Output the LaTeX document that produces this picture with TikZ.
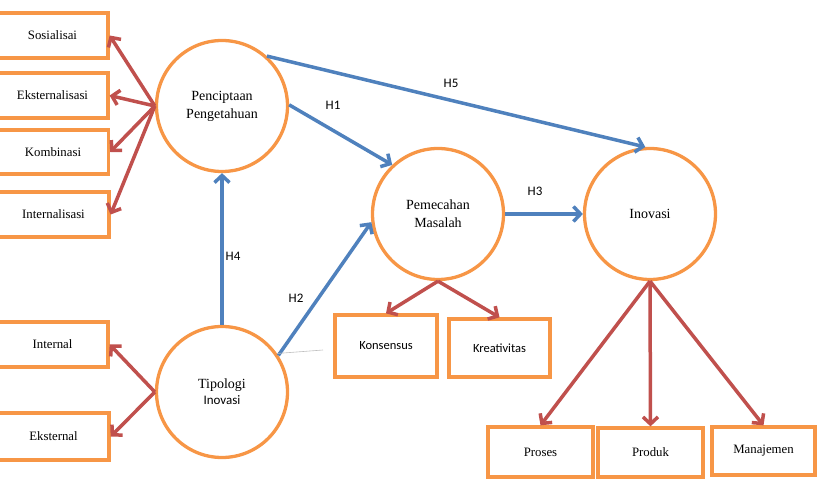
\documentclass[tikz,border=0pt]{standalone}
\usepackage{fontspec}
\setmainfont{Liberation Serif}
\newfontfamily\calibri{Carlito}
\usetikzlibrary{arrows.meta,positioning}
\definecolor{oranye}{RGB}{247,150,70}
\definecolor{merah}{RGB}{192,80,77}
\definecolor{biru}{RGB}{79,129,189}

\begin{document}
\begin{tikzpicture}[x=1pt,y=-1pt,
	kotak/.style={draw=oranye, line width=3.3pt, minimum width=111pt, minimum height=45pt, inner sep=0pt, font=\fontsize{12.8}{15}\selectfont},
	bulat/.style={draw=oranye, line width=3.3pt, circle, minimum size=131pt, inner sep=0pt, align=center, font=\fontsize{14}{18}\selectfont},
	panahmerah/.style={draw=merah, line width=3.5pt, -{Straight Barb[length=7pt,width=15pt]}},
	panahbiru/.style={draw=biru, line width=3.5pt, -{Straight Barb[length=7pt,width=15pt]}},
	teksh/.style={font=\calibri\fontsize{13}{15}\selectfont}]
		\useasboundingbox (0,0) rectangle (820,486);
		\node [kotak](sos) at (52.5,35.5) {Sosialisai};
		\node [kotak](eksl) at (52.5,95.5) {Eksternalisasi};
		\node [kotak, minimum height=44pt](kom) at (53,152) {Kombinasi};
		\node [kotak](intl) at (53.5,214.5) {Internalisasi};
		\node [kotak](intn) at (52.5,344.5) {Internal};
		\node [kotak, minimum height=47pt](ekst) at (53.5,436.5) {Eksternal};
		\node [bulat](penc) at (222,106) {Penciptaan\\Pengetahuan};
		\node [bulat](tipo) at (222,392) {Tipologi\\[-2pt]{\calibri\fontsize{13}{15}\selectfont Inovasi}};
		\node [bulat](peme) at (438,214) {Pemecahan\\Masalah};
		\node [bulat](inov) at (650,214) {Inovasi};
		\node [kotak, minimum width=102pt, minimum height=62pt, font=\calibri\fontsize{12.5}{15}\selectfont](kons) at (386,346) {Konsensus};
		\node [kotak, minimum width=101pt, minimum height=58pt, font=\calibri\fontsize{12.5}{15}\selectfont](krea) at (499.5,348) {Kreativitas};
		\node [kotak, minimum width=105pt, minimum height=50pt](pros) at (540.5,452) {Proses};
		\node [kotak, minimum width=105pt, minimum height=49pt](prod) at (650.5,452.5) {Produk};
		\node [kotak, minimum width=103pt, minimum height=48pt](mana) at (763.5,451) {Manajemen};
		\draw [panahmerah] (penc.west) -- (sos.east);
		\draw [panahmerah] (penc.west) -- (eksl.east);
		\draw [panahmerah] (penc.west) -- (kom.east);
		\draw [panahmerah] (penc.west) -- (intl.east);
		\draw [panahmerah] (tipo.west) -- (intn.east);
		\draw [panahmerah] (tipo.west) -- (ekst.east);
		\draw [panahmerah] (peme.south) -- (kons.north);
		\draw [panahmerah] (peme.south) -- (krea.north);
		\draw [panahmerah] (inov.south) -- (pros.north);
		\draw [panahmerah] (inov.south) -- (prod.north);
		\draw [panahmerah] (inov.south) -- (mana.north);
		\draw [panahbiru] (penc.1) -- (peme.133);
		\draw [panahbiru] (penc.48) -- (inov.94);
		\draw [panahbiru] (peme.east) -- (inov.west);
		\draw [panahbiru] (tipo.north) -- (penc.south);
		\draw [panahbiru] (tipo.33) -- (peme.187);
		\coordinate (ujung) at (323,350);
		\draw [black!25, line width=0.6pt] (tipo.35) -- (ujung);
		\node [teksh](h1) at (333,105) {H1};
		\node [teksh](h5) at (451,83) {H5};
		\node [teksh](h3) at (535,191) {H3};
		\node [teksh](h4) at (233,256) {H4};
		\node [teksh](h2) at (296,298) {H2};
		\end{tikzpicture}
\end{document}
